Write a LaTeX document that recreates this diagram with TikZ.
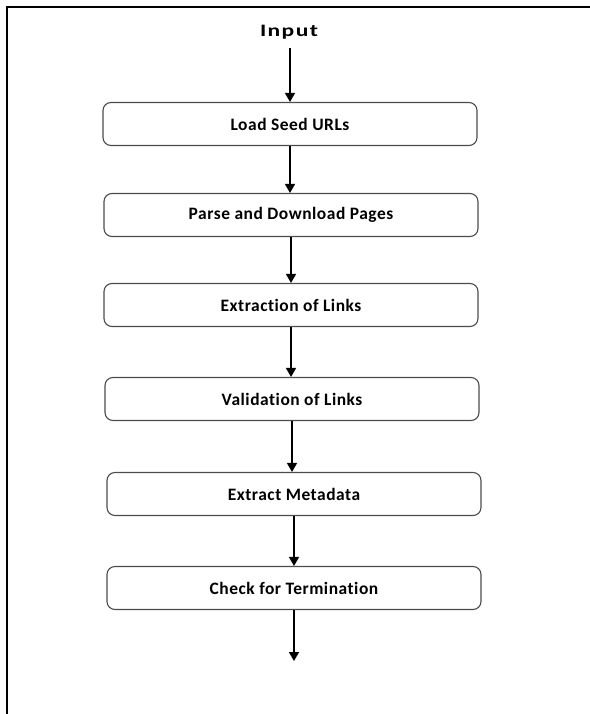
\documentclass[tikz,border=0pt]{standalone}
\usepackage{fontspec}
\setmainfont[Ligatures=NoCommon,LetterSpace=3]{Carlito}
\usetikzlibrary{arrows.meta}
\begin{document}
\begin{tikzpicture}[x=1bp,y=-1bp,
  label font/.style={font=\bfseries\fontsize{17.5}{20}\selectfont},
  stepbox/.style={label font, draw=black!70, line width=1.1bp, rounded corners=8bp,
    minimum width=374bp, minimum height=43bp, inner sep=0pt},
  flow/.style={line width=1.5bp, -{Triangle[width=10bp,length=9bp]}}]
\useasboundingbox (0,0) rectangle (590,714);
% frame: top and left edges only
\draw[line width=2.6bp] (7,714) -- (7,7) -- (590,7);
\node[label font] (in) at (289,32) {\scalebox{1.35}[1]{\addfontfeature{LetterSpace=6}Input}};
\node[stepbox] (s1) at (290,124) {Load Seed URLs};
\node[stepbox] (s2) at (291,215) {Parse and Download Pages};
\node[stepbox] (s3) at (291,305) {Extraction of Links};
\node[stepbox] (s4) at (292,399) {Validation of Links};
\node[stepbox] (s5) at (294,494) {Extract Metadata};
\node[stepbox] (s6) at (294,588) {Check for Termination};
\coordinate (end) at (294,661);
\draw[flow] (290,48) -- (s1.north);
\draw[flow] (s1.south) -- (s2.north -| s1.south);
\draw[flow] (s2.south) -- (s3.north -| s2.south);
\draw[flow] (s3.south) -- (s4.north -| s3.south);
\draw[flow] (s4.south) -- (s5.north -| s4.south);
\draw[flow] (s5.south) -- (s6.north -| s5.south);
\draw[flow] (s6.south) -- (end);
\end{tikzpicture}
\end{document}
